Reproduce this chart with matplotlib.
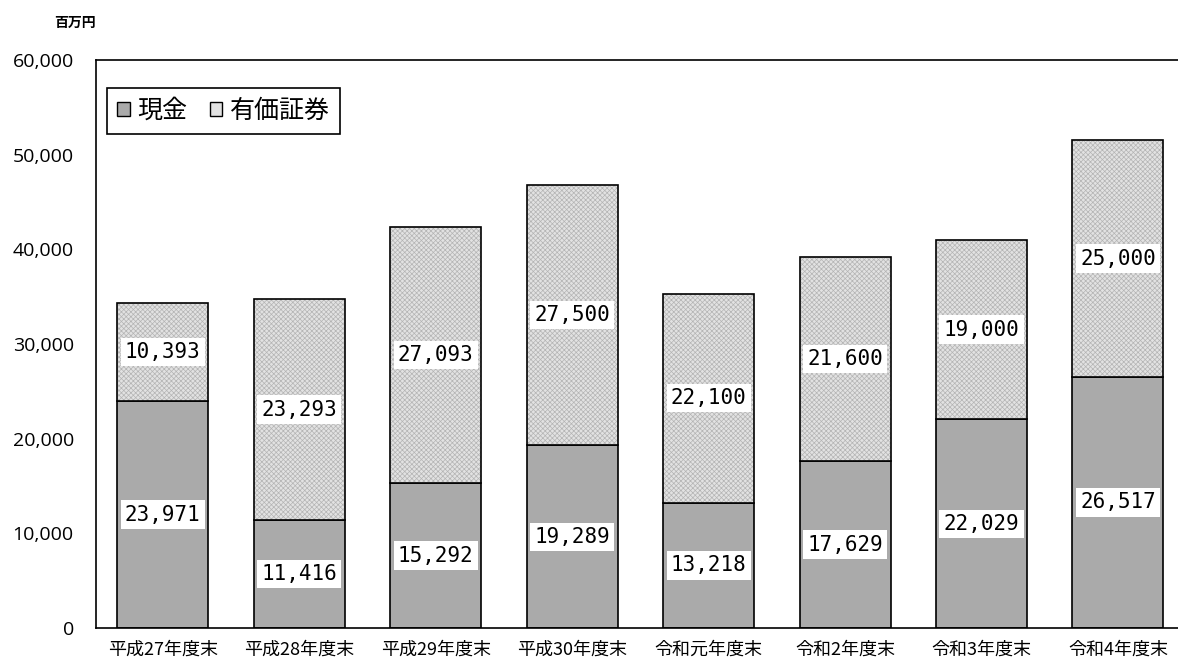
import matplotlib
matplotlib.use("Agg")
import matplotlib.pyplot as plt
import matplotlib.patches as patches

plt.rcParams['font.family'] = ['Noto Sans CJK JP', 'DejaVu Sans']
plt.rcParams['hatch.color'] = '#b4b4b4'
plt.rcParams['hatch.linewidth'] = 0.5

years = ["平成27年度末", "平成28年度末", "平成29年度末", "平成30年度末",
         "令和元年度末", "令和2年度末", "令和3年度末", "令和4年度末"]
cash = [23971, 11416, 15292, 19289, 13218, 17629, 22029, 26517]
securities = [10393, 23293, 27093, 27500, 22100, 21600, 19000, 25000]

CASH_COLOR = '#aaaaaa'
SEC_COLOR = '#e2e2e2'

fig = plt.figure(figsize=(11.78, 6.6), dpi=100)
ax = fig.add_axes([0.0815, 0.0485, 0.9185, 0.8606])

x = list(range(len(years)))
w = 0.667

ax.bar(x, cash, width=w, color=CASH_COLOR, edgecolor='black', linewidth=1.2, zorder=2)
# hatched fill first (hatch colour from rcParams), then outline on top
ax.bar(x, securities, width=w, bottom=cash, color=SEC_COLOR, hatch='xxxxxxx',
       linewidth=0, zorder=2)
ax.bar(x, securities, width=w, bottom=cash, fill=False, edgecolor='black',
       linewidth=1.2, zorder=3)

lab = dict(ha='center', va='center', fontsize=15, family='DejaVu Sans Mono',
           bbox=dict(facecolor='white', edgecolor='none', pad=3), zorder=4)
for i in x:
    ax.text(i, cash[i] / 2, f"{cash[i]:,}", **lab)
    ax.text(i, cash[i] + securities[i] / 2, f"{securities[i]:,}", **lab)

ax.set_xlim(-0.49, 7.44)
ax.set_ylim(0, 60000)
ax.set_yticks(range(0, 60001, 10000))
ax.set_yticklabels([f"{v:,}" for v in range(0, 60001, 10000)],
                   fontsize=14, family='Open Sans')
ax.set_xticks(x)
ax.set_xticklabels(years, fontsize=13)
ax.tick_params(length=0, pad=9)
ax.tick_params(axis='y', pad=16)

ax.spines['right'].set_visible(False)
for s in ['left', 'top', 'bottom']:
    ax.spines[s].set_linewidth(1.2)

fig.text(0.064, 0.965, "百万円", fontsize=10, ha='center', va='center',
         fontweight='bold')

h1 = patches.Patch(facecolor=CASH_COLOR, edgecolor='black', linewidth=1)
h2 = patches.Patch(facecolor=SEC_COLOR, edgecolor='black', linewidth=1)
leg = ax.legend([h1, h2], ["現金", "有価証券"], loc='upper left',
                bbox_to_anchor=(0.0102, 0.951), borderaxespad=0, ncol=2,
                fontsize=18, handlelength=0.5, handleheight=0.5,
                handletextpad=0.3, columnspacing=0.9, fancybox=False,
                edgecolor='black', framealpha=1, borderpad=0.4)
leg.get_frame().set_linewidth(1.2)

plt.savefig("out.png", dpi=100)
